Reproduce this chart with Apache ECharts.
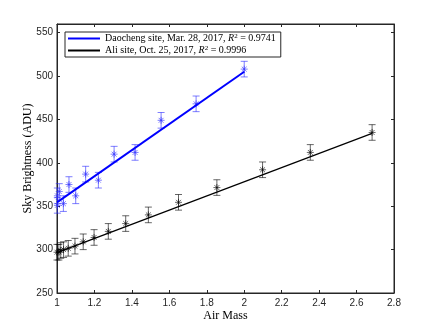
<!DOCTYPE html>
<html>
  <head>
    <meta charset="UTF-8" />
    <title>Sky Brightness vs Air Mass</title>
    <script src="https://cdn.jsdelivr.net/npm/echarts@6.0.0/dist/echarts.min.js"></script>
    <style>
      html, body { margin: 0; padding: 0; background: #fff; }
    </style>
  </head>
  <body>
    <div id="chart" style="width: 436px; height: 327px"></div>
  <script>
// values
let daochengAirMass = [1.002, 1.002, 1.012, 1.034, 1.064, 1.100, 1.153, 1.221, 1.305, 1.417, 1.556, 1.743, 2.000];
let daochengBright  = [362, 351, 367, 353, 375, 362, 387, 380, 410, 412, 449, 468, 508];
let daochengErr     = [9, 9, 9, 9, 9, 9, 9, 9, 9, 9, 9, 9, 9];

let aliAirMass = [1.000, 1.010, 1.020, 1.035, 1.060, 1.096, 1.140, 1.198, 1.274, 1.367, 1.488, 1.649, 1.854, 2.098, 2.353, 2.683];
let aliBright  = [297, 297, 299, 300, 301.5, 304, 309, 314, 321, 330, 340, 354.5, 371.5, 392, 412, 435];
let aliErr     = [9, 9, 9, 9, 9, 9, 9, 9, 9, 9, 9, 9, 9, 9, 9, 9];

// fitted lines, end points
let daochengFitX = [1.0, 2.0];
let daochengFitY = [354.5, 505];
let aliFitX = [1.0, 2.683];
let aliFitY = [296.5, 434];

let legendNames = ['Daocheng site, Mar. 28, 2017', 'Ali site, Oct. 25, 2017'];
let legendR2 = ['0.9741', '0.9996'];

function pairs(xs, ys) {
  return xs.map((x, i) => [x, ys[i]]);
}

function errData(xs, ys, es) {
  return xs.map((x, i) => [x, ys[i] - es[i], ys[i] + es[i]]);
}

function errorBars(color) {
  return function (params, api) {
    let lo = api.coord([api.value(0), api.value(1)]);
    let hi = api.coord([api.value(0), api.value(2)]);
    let w = 3.5;
    let style = { stroke: color, lineWidth: 1, fill: null };
    return {
      type: 'group',
      children: [
        { type: 'line', shape: { x1: lo[0], y1: lo[1], x2: hi[0], y2: hi[1] }, style: style },
        { type: 'line', shape: { x1: lo[0] - w, y1: lo[1], x2: lo[0] + w, y2: lo[1] }, style: style },
        { type: 'line', shape: { x1: hi[0] - w, y1: hi[1], x2: hi[0] + w, y2: hi[1] }, style: style }
      ]
    };
  };
}

let asterisk = 'path://M0,-1L0,1M-1,0L1,0M-0.7,-0.7L0.7,0.7M-0.7,0.7L0.7,-0.7';
let serif = '"Liberation Serif", "DejaVu Serif", serif';
let sans = '"Liberation Sans", Arial, sans-serif';

let myChart = echarts.init(document.getElementById('chart'));

myChart.setOption({
  animation: false,
  backgroundColor: '#fff',
  grid: {
    left: 57, right: 42, top: 24, bottom: 34,
    outerBoundsMode: 'none',
    show: true, borderColor: '#262626', borderWidth: 1
  },
  legend: {
    data: legendNames,
    orient: 'vertical',
    left: 65,
    top: 32,
    itemGap: 1,
    itemWidth: 32,
    itemHeight: 2,
    icon: 'rect',
    padding: [1, 5, 1, 3],
    backgroundColor: '#fff',
    borderColor: '#262626',
    borderWidth: 1,
    borderRadius: 0,
    textStyle: {
      fontFamily: serif,
      fontSize: 10,
      lineHeight: 11,
      color: '#000',
      rich: {
        it: { fontFamily: serif, fontSize: 10, lineHeight: 11, fontStyle: 'italic', color: '#000' },
        sup: { fontFamily: serif, fontSize: 7, lineHeight: 11, color: '#000', verticalAlign: 'top', padding: [0, 0, 4, 0] }
      }
    },
    formatter: function (name) {
      let i = legendNames.indexOf(name);
      return name + ', {it|R}{sup|2} = ' + legendR2[i];
    }
  },
  xAxis: [
    {
      type: 'value',
      min: 1,
      max: 2.8,
      interval: 0.2,
      name: 'Air Mass',
      nameLocation: 'middle',
      nameGap: 17,
      nameMoveOverlap: false,
      nameTextStyle: { fontFamily: serif, fontSize: 12, color: '#000' },
      axisLine: { lineStyle: { color: '#262626' } },
      axisTick: { inside: true, length: 3, lineStyle: { color: '#262626' } },
      axisLabel: { fontFamily: sans, fontSize: 10, color: '#262626', margin: 5 },
      splitLine: { show: false }
    },
    {
      type: 'value',
      position: 'top',
      min: 1,
      max: 2.8,
      interval: 0.2,
      axisLine: { lineStyle: { color: '#262626' } },
      axisTick: { inside: true, length: 3, lineStyle: { color: '#262626' } },
      axisLabel: { show: false },
      splitLine: { show: false }
    }
  ],
  yAxis: [
    {
      type: 'value',
      min: 250,
      max: 560,
      interval: 50,
      name: 'Sky Brightness (ADU)',
      nameLocation: 'middle',
      nameGap: 23,
      nameMoveOverlap: false,
      nameTextStyle: { fontFamily: serif, fontSize: 12, color: '#000' },
      axisLine: { lineStyle: { color: '#262626' } },
      axisTick: { inside: true, length: 3, lineStyle: { color: '#262626' } },
      axisLabel: {
        fontFamily: sans, fontSize: 10, color: '#262626', margin: 4,
        formatter: function (v) { return v % 50 === 0 ? String(v) : ''; }
      },
      splitLine: { show: false }
    },
    {
      type: 'value',
      position: 'right',
      min: 250,
      max: 560,
      interval: 50,
      axisLine: { lineStyle: { color: '#262626' } },
      axisTick: { inside: true, length: 3, lineStyle: { color: '#262626' } },
      axisLabel: { show: false },
      splitLine: { show: false }
    }
  ],
  series: [
    {
      name: 'daocheng-err',
      type: 'custom',
      renderItem: errorBars('rgba(40,40,255,0.6)'),
      data: errData(daochengAirMass, daochengBright, daochengErr),
      z: 2
    },
    {
      name: 'ali-err',
      type: 'custom',
      renderItem: errorBars('rgba(0,0,0,0.6)'),
      data: errData(aliAirMass, aliBright, aliErr),
      z: 2
    },
    {
      name: 'daocheng-pts',
      type: 'scatter',
      symbol: asterisk,
      symbolSize: 7,
      itemStyle: { color: 'rgba(0,0,0,0)', borderColor: 'rgba(50,50,255,0.8)', borderWidth: 1 },
      data: pairs(daochengAirMass, daochengBright),
      z: 3
    },
    {
      name: 'ali-pts',
      type: 'scatter',
      symbol: asterisk,
      symbolSize: 7,
      itemStyle: { color: 'rgba(0,0,0,0)', borderColor: 'rgba(0,0,0,0.75)', borderWidth: 1 },
      data: pairs(aliAirMass, aliBright),
      z: 3
    },
    {
      name: legendNames[0],
      type: 'line',
      showSymbol: false,
      symbol: 'none',
      color: '#0000ff',
      lineStyle: { color: '#0000ff', width: 2 },
      data: pairs(daochengFitX, daochengFitY),
      z: 4
    },
    {
      name: legendNames[1],
      type: 'line',
      showSymbol: false,
      symbol: 'none',
      color: '#000',
      lineStyle: { color: '#000', width: 1.2 },
      data: pairs(aliFitX, aliFitY),
      z: 4
    }
  ]
});
  </script>
  </body>
</html>
